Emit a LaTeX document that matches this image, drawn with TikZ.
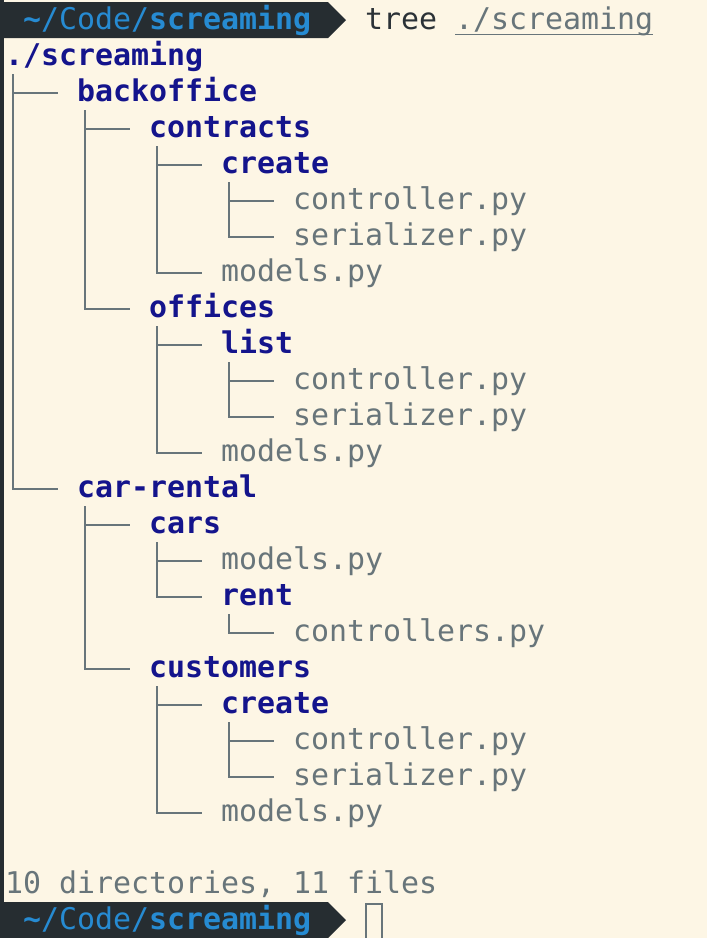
\documentclass[tikz,border=0pt]{standalone}
\usepackage{fontspec}
\newfontfamily\term{DejaVu Sans Mono}
\definecolor{bg}{RGB}{253,246,229}
\definecolor{dirblue}{RGB}{20,20,140}
\definecolor{filegray}{RGB}{104,117,122}
\definecolor{bar}{RGB}{38,45,49}
\definecolor{pblue}{RGB}{38,139,210}
\definecolor{cmd}{RGB}{43,50,55}
\newcommand\tentry[5]{\node[#4] (#1) at ({5+72*#3},{29.5+36*#2}) {#5};}
\newcommand\tbranch[3]{\draw[tl] ({13+72*#1},{2+36*#2}) |- ({58+72*#1},{21+36*#3});}
\newcommand\ttee[2]{\draw[tl] ({13+72*#1},{21+36*#2}) -- ++(45,0);}
\begin{document}
\begin{tikzpicture}[x=1pt,y=-1pt,
  txt/.style={anchor=base west,inner sep=0pt,font=\term\fontsize{29.9}{36}\selectfont},
  dirn/.style={txt,text=dirblue,font=\term\bfseries\fontsize{29.9}{36}\selectfont},
  filen/.style={txt,text=filegray},
  tl/.style={draw=filegray,line width=2pt}]
\fill[bg] (0,0) rectangle (707,938);
\useasboundingbox (0,0) rectangle (707,938);
\fill[bar] (0,0) rectangle (3.5,938);
% top prompt
\fill[bar] (4,2) -- (328,2) -- (346,20) -- (328,38) -- (4,38) -- cycle;
\node[txt,text=pblue] (p1) at (23,29.5) {\textbf{\textasciitilde}/Code/\textbf{screaming}};
\node[txt,text=cmd] (cmd) at (365,29.5) {tree};
\node[txt,text=filegray] (arg) at (455,29.5) {./screaming};
\draw[filegray,line width=1.5pt] (arg.south west) ++(0,0) coordinate (u1);
\draw[filegray,line width=1.5pt] (455,34.5) -- (653,34.5);
% tree entries
\tentry{n1}{1}{0}{dirn}{./screaming}
\tentry{n2}{2}{1}{dirn}{backoffice}
\tentry{n3}{3}{2}{dirn}{contracts}
\tentry{n4}{4}{3}{dirn}{create}
\tentry{n5}{5}{4}{filen}{controller.py}
\tentry{n6}{6}{4}{filen}{serializer.py}
\tentry{n7}{7}{3}{filen}{models.py}
\tentry{n8}{8}{2}{dirn}{offices}
\tentry{n9}{9}{3}{dirn}{list}
\tentry{n10}{10}{4}{filen}{controller.py}
\tentry{n11}{11}{4}{filen}{serializer.py}
\tentry{n12}{12}{3}{filen}{models.py}
\tentry{n13}{13}{1}{dirn}{car-rental}
\tentry{n14}{14}{2}{dirn}{cars}
\tentry{n15}{15}{3}{filen}{models.py}
\tentry{n16}{16}{3}{dirn}{rent}
\tentry{n17}{17}{4}{filen}{controllers.py}
\tentry{n18}{18}{2}{dirn}{customers}
\tentry{n19}{19}{3}{dirn}{create}
\tentry{n20}{20}{4}{filen}{controller.py}
\tentry{n21}{21}{4}{filen}{serializer.py}
\tentry{n22}{22}{3}{filen}{models.py}
% connectors
\tbranch{0}{2}{13} \ttee{0}{2}
\tbranch{1}{3}{8} \ttee{1}{3}
\tbranch{2}{4}{7} \ttee{2}{4}
\tbranch{3}{5}{6} \ttee{3}{5}
\tbranch{2}{9}{12} \ttee{2}{9}
\tbranch{3}{10}{11} \ttee{3}{10}
\tbranch{1}{14}{18} \ttee{1}{14}
\tbranch{2}{15}{16} \ttee{2}{15}
\tbranch{3}{17}{17}
\tbranch{2}{19}{22} \ttee{2}{19}
\tbranch{3}{20}{21} \ttee{3}{20}
% summary
\node[filen] (sum) at (5,{29.5+36*24}) {10 directories, 11 files};
% bottom prompt
\fill[bar] (4,902) -- (328,902) -- (346,920) -- (328,938) -- (4,938) -- cycle;
\node[txt,text=pblue] (p2) at (23,{29.5+36*25}) {\textbf{\textasciitilde}/Code/\textbf{screaming}};
\draw[filegray,line width=2pt] (366,904) rectangle (382,939);
\end{tikzpicture}
\end{document}
